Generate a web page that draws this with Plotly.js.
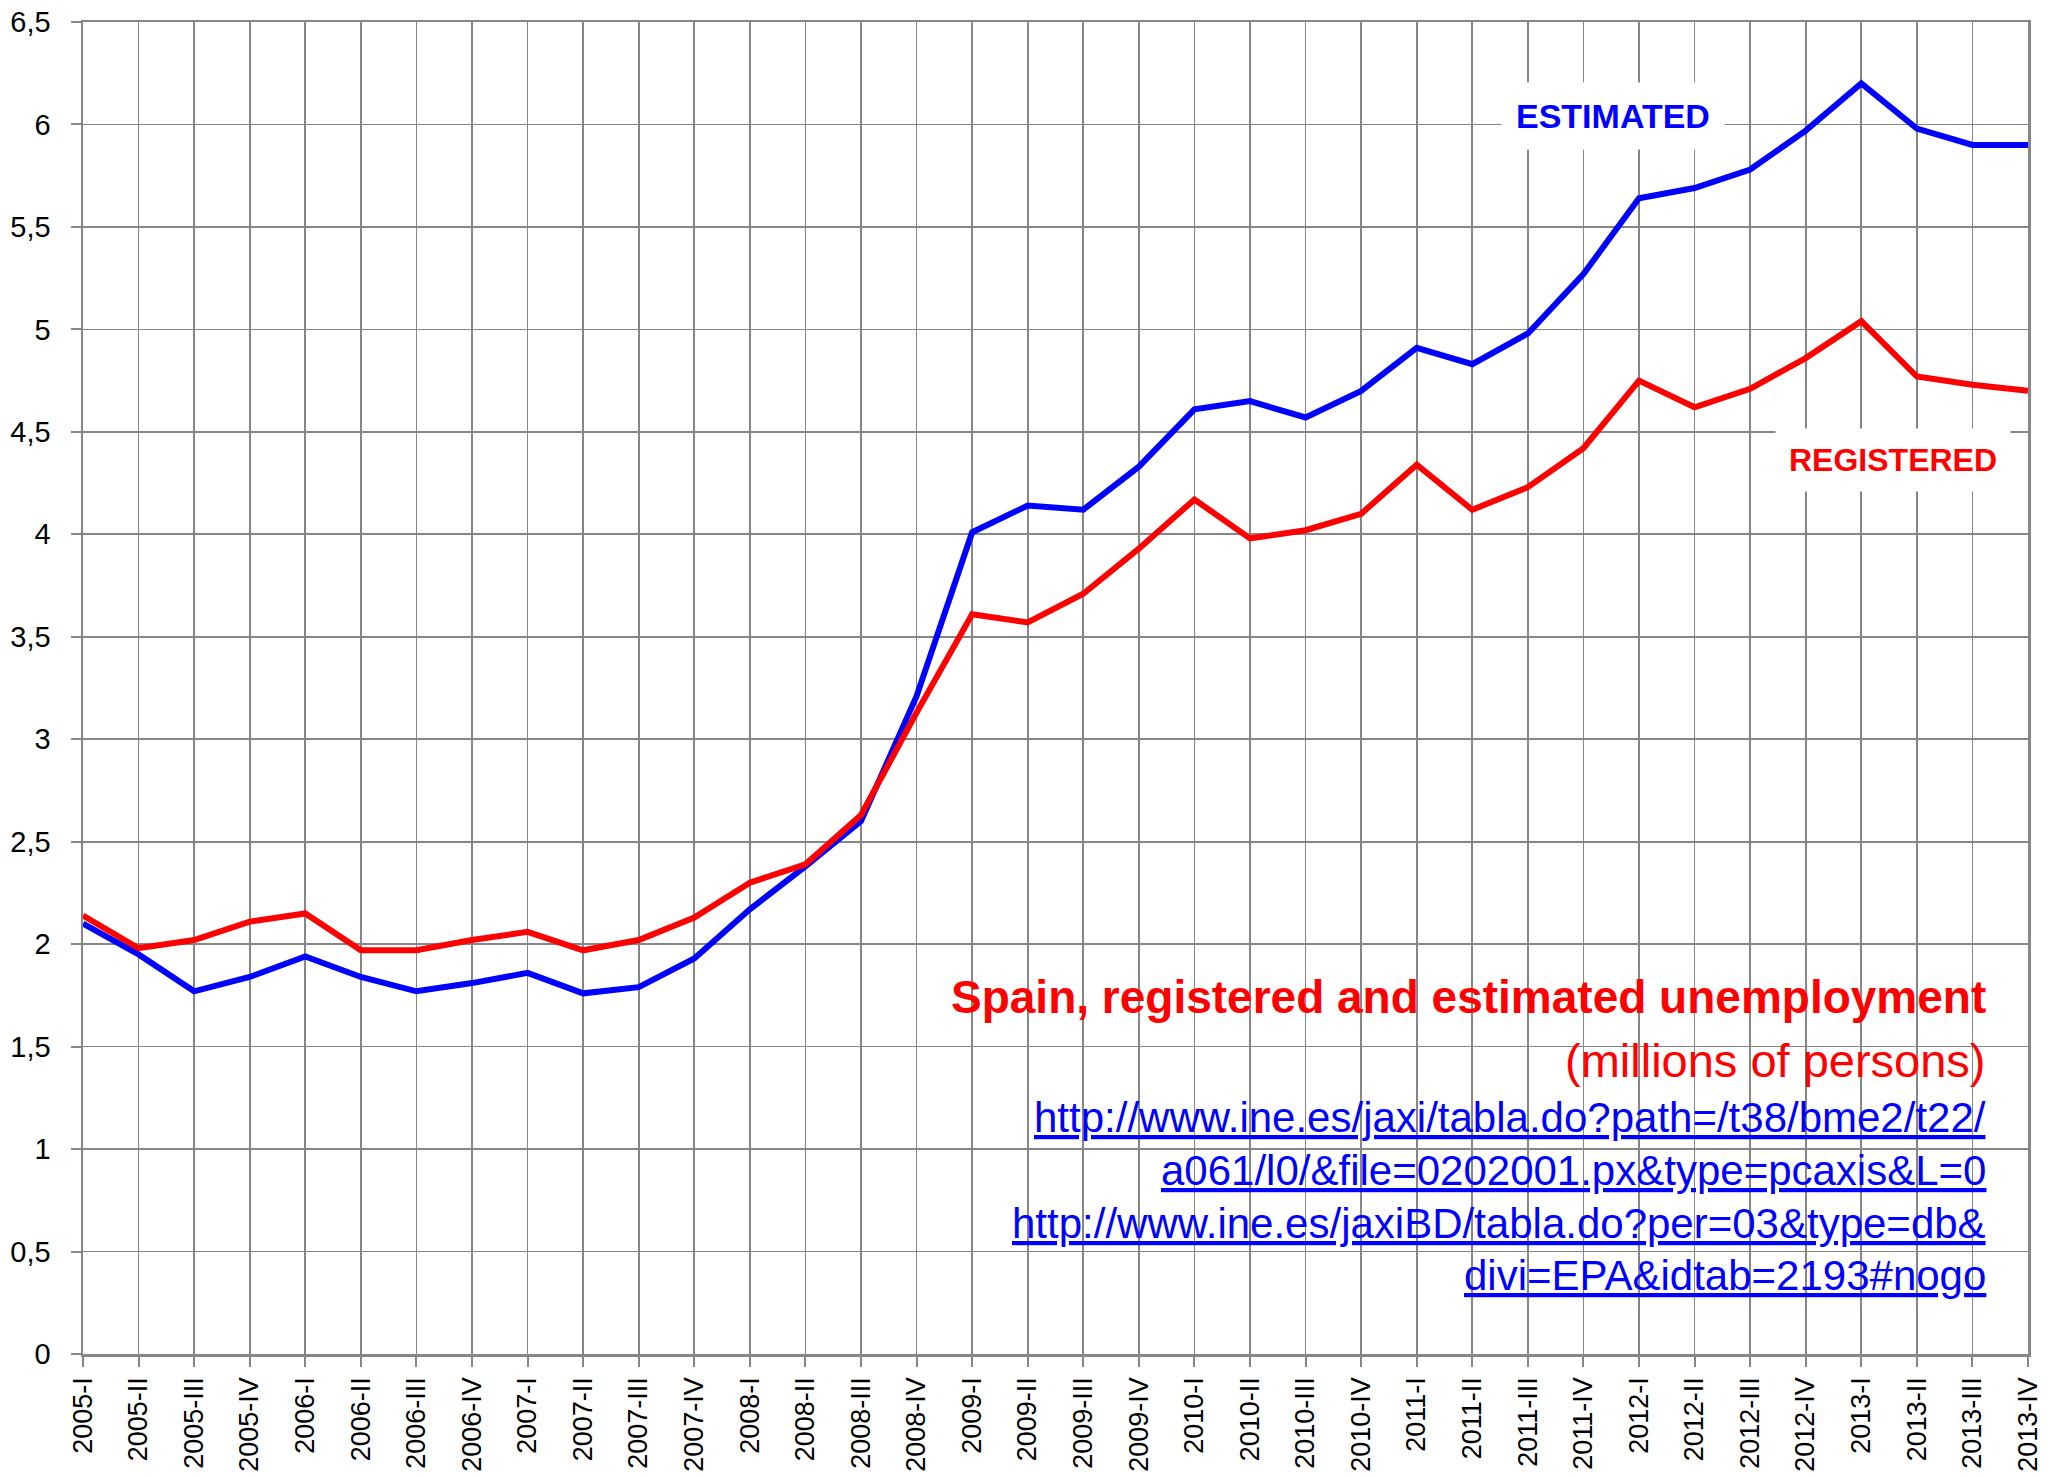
<!DOCTYPE html>
<html>
<head>
<meta charset="utf-8">
<script src="https://cdn.plot.ly/plotly-3.0.1.min.js"></script>
<style>
html,body{margin:0;padding:0;background:#fff;}
#chart{width:2053px;height:1478px;}
</style>
</head>
<body>
<div id="chart"></div>
<script>
// Quarter labels
const quarters = [
  "2005-I","2005-II","2005-III","2005-IV",
  "2006-I","2006-II","2006-III","2006-IV",
  "2007-I","2007-II","2007-III","2007-IV",
  "2008-I","2008-II","2008-III","2008-IV",
  "2009-I","2009-II","2009-III","2009-IV",
  "2010-I","2010-II","2010-III","2010-IV",
  "2011-I","2011-II","2011-III","2011-IV",
  "2012-I","2012-II","2012-III","2012-IV",
  "2013-I","2013-II","2013-III","2013-IV"
];
// Estimated unemployment (EPA), millions of persons
const estimated = [
  2.10, 1.95, 1.77, 1.84,
  1.94, 1.84, 1.77, 1.81,
  1.86, 1.76, 1.79, 1.93,
  2.17, 2.38, 2.60, 3.21,
  4.01, 4.14, 4.12, 4.33,
  4.61, 4.65, 4.57, 4.70,
  4.91, 4.83, 4.98, 5.27,
  5.64, 5.69, 5.78, 5.97,
  6.20, 5.98, 5.90, 5.90
];
// Registered unemployment, millions of persons
const registered = [
  2.14, 1.98, 2.02, 2.11,
  2.15, 1.97, 1.97, 2.02,
  2.06, 1.97, 2.02, 2.13,
  2.30, 2.39, 2.63, 3.13,
  3.61, 3.57, 3.71, 3.93,
  4.17, 3.98, 4.02, 4.10,
  4.34, 4.12, 4.23, 4.42,
  4.75, 4.62, 4.71, 4.86,
  5.04, 4.77, 4.73, 4.70
];
const yTicks = [0, 0.5, 1, 1.5, 2, 2.5, 3, 3.5, 4, 4.5, 5, 5.5, 6, 6.5];

const titleMain = "Spain, registered and estimated unemployment";
const titleSub = "(millions of persons)";
const urlLines = [
  "http://www.ine.es/jaxi/tabla.do?path=/t38/bme2/t22/",
  "a061/l0/&file=0202001.px&type=pcaxis&L=0",
  "http://www.ine.es/jaxiBD/tabla.do?per=03&type=db&",
  "divi=EPA&idtab=2193#nogo"
];

const FONT = "Liberation Sans, Arial, sans-serif";
const GRID = "#868686";

const traces = [
  {
    x: quarters, y: estimated, type: "scatter", mode: "lines",
    name: "ESTIMATED", line: {color: "#0000ff", width: 6}
  },
  {
    x: quarters, y: registered, type: "scatter", mode: "lines",
    name: "REGISTERED", line: {color: "#ff0000", width: 6}
  }
];

function esc(s){ return s.replace(/&/g, "&amp;").replace(/</g,"&lt;"); }

const urlY = [0.1772, 0.1374, 0.0983, 0.0586];
const annotations = [
  {
    xref: "paper", yref: "paper", x: 0.7865, y: 0.9295,
    xanchor: "center", yanchor: "middle", showarrow: false,
    text: "<b>ESTIMATED</b>", bgcolor: "#ffffff", borderpad: 14,
    font: {family: FONT, size: 34, color: "#0000ff"}
  },
  {
    xref: "paper", yref: "paper", x: 0.9306, y: 0.671,
    xanchor: "center", yanchor: "middle", showarrow: false,
    text: "<b>REGISTERED</b>", bgcolor: "#ffffff", borderpad: 13,
    font: {family: FONT, size: 32, color: "#ff0000"}
  },
  {
    xref: "paper", yref: "paper", x: 0.9794, y: 0.268,
    xanchor: "right", yanchor: "middle", showarrow: false,
    text: "<b>" + esc(titleMain) + "</b>",
    font: {family: FONT, size: 46, color: "#ff0000"}
  },
  {
    xref: "paper", yref: "paper", x: 0.9794, y: 0.2205,
    xanchor: "right", yanchor: "middle", showarrow: false,
    text: esc(titleSub),
    font: {family: FONT, size: 47, color: "#ff0000"}
  }
];
urlLines.forEach(function(u, i){
  annotations.push({
    xref: "paper", yref: "paper", x: 0.9794, y: urlY[i],
    xanchor: "right", yanchor: "middle", showarrow: false,
    text: esc(u),
    font: {family: FONT, size: 42, color: "#0000ff", lineposition: "under"}
  });
});

const layout = {
  width: 2053, height: 1478,
  margin: {l: 83, r: 25, t: 22, b: 124, pad: 0},
  paper_bgcolor: "#ffffff", plot_bgcolor: "#ffffff",
  showlegend: false,
  separators: ", ",
  xaxis: {
    type: "category",
    range: [0, quarters.length - 1],
    tickmode: "array", tickvals: quarters, ticktext: quarters,
    tickangle: -90,
    ticks: "outside", ticklen: 10, tickwidth: 2, tickcolor: GRID,
    showgrid: true, gridcolor: GRID, gridwidth: 1.7,
    showline: true, linecolor: GRID, linewidth: 2.5, mirror: true,
    zeroline: false,
    ticklabelstandoff: 0,
    tickfont: {family: FONT, size: 27, color: "#000000"},
    fixedrange: true
  },
  yaxis: {
    range: [0, 6.5],
    tickmode: "array", tickvals: yTicks,
    ticks: "outside", ticklen: 10, tickwidth: 2, tickcolor: GRID,
    showgrid: true, gridcolor: GRID, gridwidth: 1.7,
    showline: true, linecolor: GRID, linewidth: 2.5, mirror: true,
    zeroline: false,
    ticklabelstandoff: 14,
    tickfont: {family: FONT, size: 29, color: "#000000"},
    fixedrange: true
  },
  shapes: [
    {
      type: "rect", xref: "paper", yref: "paper",
      x0: 0.4305, x1: 0.9933, y0: 0.018, y1: 0.3003,
      fillcolor: "#ffffff", line: {width: 0}, layer: "between"
    }
  ],
  annotations: annotations
};

Plotly.newPlot("chart", traces, layout, {displayModeBar: false, staticPlot: true});
</script>
</body>
</html>
